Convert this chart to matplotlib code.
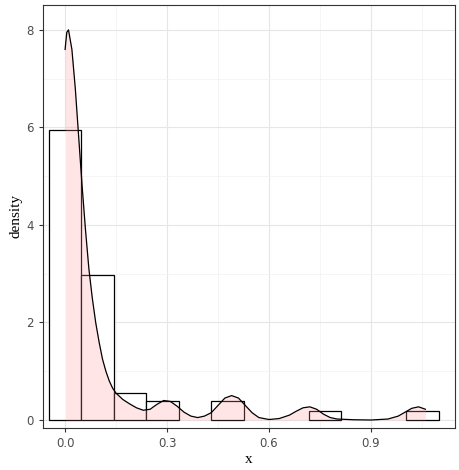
import matplotlib
matplotlib.use("Agg")
import matplotlib.pyplot as plt
import numpy as np

bin_centers = [0.0, 0.0956, 0.1912, 0.2868, 0.478, 0.7648, 1.0516]
bin_density = [5.95, 2.97, 0.55, 0.38, 0.38, 0.18, 0.18]
binwidth = 0.0956

dens_x = [0, 0.005, 0.01, 0.02, 0.03, 0.04, 0.05, 0.06, 0.07, 0.08, 0.09, 0.10, 0.11, 0.12, 0.13, 0.14, 0.15, 0.17, 0.19, 0.21, 0.23, 0.25, 0.27, 0.29, 0.31, 0.33, 0.35, 0.37, 0.39, 0.41, 0.43, 0.45, 0.47, 0.49, 0.51, 0.53, 0.55, 0.57, 0.60, 0.63, 0.66, 0.68, 0.70, 0.72, 0.74, 0.76, 0.78, 0.80, 0.85, 0.90, 0.95, 0.98, 1.00, 1.02, 1.04, 1.06]
dens_y = [7.6, 7.95, 8.0, 7.6, 6.8, 5.8, 4.8, 3.9, 3.1, 2.5, 2.0, 1.6, 1.25, 1.0, 0.8, 0.65, 0.55, 0.42, 0.33, 0.25, 0.2, 0.22, 0.32, 0.4, 0.38, 0.28, 0.16, 0.08, 0.05, 0.08, 0.15, 0.3, 0.45, 0.5, 0.45, 0.3, 0.15, 0.05, 0.01, 0.03, 0.1, 0.18, 0.25, 0.27, 0.22, 0.12, 0.05, 0.02, 0.005, 0, 0.02, 0.08, 0.16, 0.24, 0.27, 0.22]

xticks = [0.0, 0.3, 0.6, 0.9]
yticks = [0, 2, 4, 6, 8]

fig = plt.figure(figsize=(4.59, 4.70), dpi=100)
ax = fig.add_axes([43/459, 42/470, 412/459, 423/470])
ax.bar(bin_centers, bin_density, width=binwidth, facecolor="white", edgecolor="black", linewidth=0.9, zorder=2)
ax.fill_between(dens_x, dens_y, color="#ff9999", alpha=0.25, linewidth=0, zorder=3)
ax.plot(dens_x, dens_y, color="black", linewidth=0.9, zorder=4)

ax.set_xlim(-0.065, 1.147)
ax.set_ylim(-0.164, 8.51)
ax.set_xticks(xticks)
ax.set_xticklabels([f"{t:.1f}" for t in xticks])
ax.set_yticks(yticks)
ax.set_xticks([0.15, 0.45, 0.75, 1.05], minor=True)
ax.set_yticks([1, 3, 5, 7], minor=True)
ax.grid(True, which="major", color="#e6e6e6", linewidth=0.8, zorder=0)
ax.grid(True, which="minor", color="#f2f2f2", linewidth=0.5, zorder=0)
ax.set_axisbelow(True)
ax.tick_params(which="both", length=0, labelsize=8.5, labelcolor="#4d4d4d")
ax.tick_params(which="major", length=3, color="#333333")
for s in ax.spines.values():
    s.set_color("#333333"); s.set_linewidth(0.8)
ax.set_xlabel("x", family="Liberation Serif", fontsize=11, labelpad=2)
ax.set_ylabel("density", family="Liberation Serif", fontsize=11, labelpad=3)
fig.savefig("out.png", dpi=100)
